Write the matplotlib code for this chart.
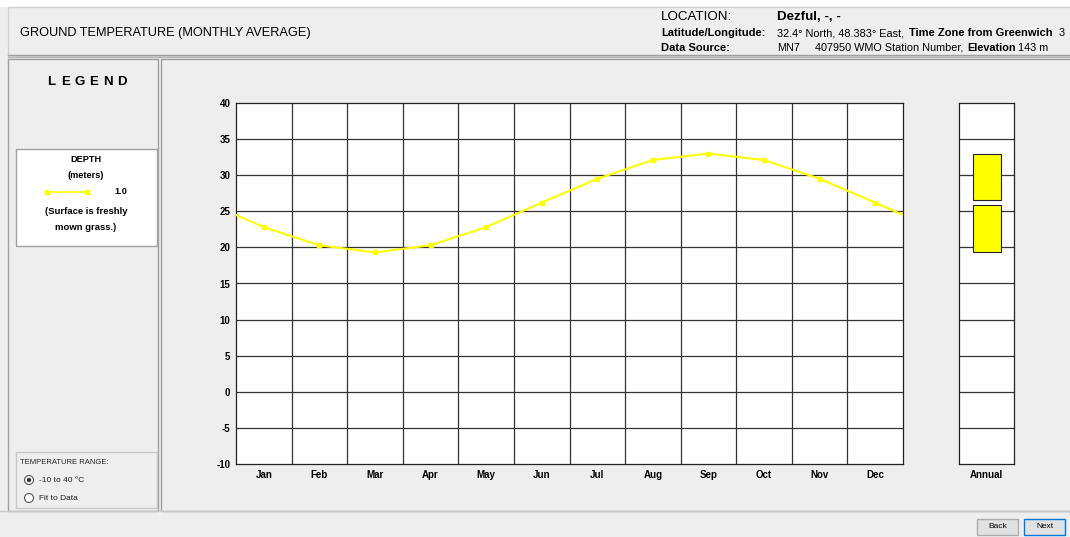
import numpy as np
import matplotlib
matplotlib.use('Agg')
import matplotlib.pyplot as plt
from matplotlib.patches import Rectangle, Circle
from matplotlib.lines import Line2D
from matplotlib.transforms import Affine2D

plt.rcParams['font.family'] = ['Liberation Sans', 'DejaVu Sans']
plt.rcParams['axes.unicode_minus'] = False

# 数据
months = ['Jan', 'Feb', 'Mar', 'Apr', 'May', 'Jun', 'Jul', 'Aug', 'Sep', 'Oct', 'Nov', 'Dec']
temps = [22.8, 20.3, 19.3, 20.3, 22.8, 26.2, 29.5, 32.1, 33.0, 32.1, 29.5, 26.2]
y_ticks = [-10, -5, 0, 5, 10, 15, 20, 25, 30, 35, 40]
depth_label = '1.0'

W, H = 1070, 537
BG = '#EEEEEE'
YEL = '#FFFF00'

fig = plt.figure(figsize=(W / 100, H / 100), dpi=100, facecolor=BG)
# 像素坐标 (左上角为原点)
T = Affine2D().scale(1, -1).translate(0, H).scale(0.01) + fig.dpi_scale_trans


def rect(x0, y0, x1, y1, **kw):
    fig.patches.append(Rectangle((x0, y0), x1 - x0, y1 - y0, transform=T, zorder=-5, **kw))


def hline(x0, x1, y, **kw):
    fig.lines.append(Line2D([x0, x1], [y, y], transform=T, zorder=-4, **kw))


def txt(x, y, s, **kw):
    fig.text(x, y, s, transform=T, **kw)


# 顶部白条和标题栏
rect(0, 0, W, 7, facecolor='white', edgecolor='none')
rect(8, 7, W + 2, 56, facecolor=BG, edgecolor='#D0D0D0', linewidth=1)
hline(8, W, 55, color='#A0A0A0', linewidth=1)
hline(8, W, 57, color='#B8B8B8', linewidth=1)

txt(20, 33, 'GROUND TEMPERATURE (MONTHLY AVERAGE)', fontsize=9.2, va='center')
txt(661, 17, 'LOCATION:', fontsize=9.6, va='center')
txt(777, 17, 'Dezful, -, -', fontsize=9.6, va='center', fontweight='bold')
txt(661, 33, 'Latitude/Longitude:', fontsize=8, va='center', fontweight='bold')
txt(777, 33, '32.4° North, 48.383° East,', fontsize=7.8, va='center')
txt(909, 33, 'Time Zone from Greenwich', fontsize=8, va='center', fontweight='bold')
txt(1059, 33, '3', fontsize=7.8, va='center')
txt(661, 48, 'Data Source:', fontsize=8, va='center', fontweight='bold')
txt(777, 48, 'MN7', fontsize=7.8, va='center')
txt(815, 48, '407950 WMO Station Number,', fontsize=7.8, va='center')
txt(967, 48, 'Elevation', fontsize=7.8, va='center', fontweight='bold')
txt(1018, 48, '143 m', fontsize=7.8, va='center')

# 左侧图例面板
rect(8, 59, 158, 511, facecolor=BG, edgecolor='#A0A0A0', linewidth=1)
rect(161, 59, W + 2, 511, facecolor=BG, edgecolor='#A0A0A0', linewidth=1)
for i, ch in enumerate('LEGEND'):
    txt(51 + i * 14.2, 82, ch, fontsize=9.5, fontweight='bold', ha='center', va='center')

rect(16, 149, 157, 246, facecolor='white', edgecolor='#A0A0A0', linewidth=1)
txt(86, 159, 'DEPTH', fontsize=6.6, fontweight='bold', ha='center', va='center')
txt(86, 175, '(meters)', fontsize=6.6, fontweight='bold', ha='center', va='center')
fig.lines.append(Line2D([47, 87], [192, 192], transform=T, color=YEL, linewidth=1.2,
                        marker='s', markersize=2.5))
txt(121, 192, depth_label, fontsize=6.6, fontweight='bold', ha='center', va='center')
txt(86, 212, '(Surface is freshly', fontsize=6.8, fontweight='bold', ha='center', va='center')
txt(86, 228, 'mown grass.)', fontsize=6.8, fontweight='bold', ha='center', va='center')

rect(16, 452, 157, 508, facecolor=BG, edgecolor='#C8C8C8', linewidth=1)
txt(20, 463, 'TEMPERATURE RANGE:', fontsize=5.5, va='center', color='#222222')
fig.patches.append(Circle((29, 480), 4.5, transform=T, facecolor='white', edgecolor='#555555', linewidth=0.8))
fig.patches.append(Circle((29, 480), 2.2, transform=T, facecolor='#333333', edgecolor='none'))
fig.patches.append(Circle((29, 498), 4.5, transform=T, facecolor='white', edgecolor='#555555', linewidth=0.8))
txt(39, 480, '-10 to 40 °C', fontsize=6, va='center', color='#222222')
txt(39, 498, 'Fit to Data', fontsize=6, va='center', color='#222222')

# 底部按钮栏
hline(0, W, 511, color='#C8C8C8', linewidth=1)
rect(977, 519, 1018, 535, facecolor='#E1E1E1', edgecolor='#ADADAD', linewidth=1)
txt(997.5, 527, 'Back', fontsize=6, ha='center', va='center')
rect(1024, 519, 1065, 535, facecolor='#E1E1E1', edgecolor='#0078D7', linewidth=1)
txt(1044.5, 527, 'Next', fontsize=6, ha='center', va='center')

# 主图
ax = fig.add_axes([236 / W, 1 - 464 / H, 667 / W, 361 / H])
ax.set_facecolor('white')
xs = np.arange(len(months)) + 0.5
# 两端连接上一年12月和下一年1月
x_ext = np.concatenate([[xs[0] - 1], xs, [xs[-1] + 1]])
y_ext = [temps[-1]] + temps + [temps[0]]
ax.plot(x_ext, y_ext, color=YEL, linewidth=1.5, zorder=3)
ax.plot(xs, temps, linestyle='none', marker='s', color=YEL, markersize=3, zorder=4)
ax.set_xlim(0, 12)
ax.set_ylim(-10, 40)
ax.set_yticks(y_ticks)
ax.set_xticks(xs)
ax.set_xticklabels(months)
for v in np.arange(1, 12):
    ax.axvline(v, color='#333333', linewidth=0.9, zorder=1)
for v in y_ticks[1:-1]:
    ax.axhline(v, color='#333333', linewidth=0.9, zorder=1)
ax.tick_params(length=0, labelsize=7, pad=4)
for lab in ax.get_xticklabels() + ax.get_yticklabels():
    lab.set_fontweight('bold')
for s in ax.spines.values():
    s.set_color('#222222')
    s.set_linewidth(0.9)

# 年度柱
ax2 = fig.add_axes([959 / W, 1 - 464 / H, 55.5 / W, 361 / H])
ax2.set_facecolor('white')
t_min, t_max, t_mean = min(temps), max(temps), np.mean(temps)
gap = 0.35
ax2.bar(0.5, t_mean - gap - t_min, bottom=t_min, width=0.5, color=YEL,
        edgecolor='#222222', linewidth=0.8, zorder=3)
ax2.bar(0.5, t_max - t_mean - gap, bottom=t_mean + gap, width=0.5, color=YEL,
        edgecolor='#222222', linewidth=0.8, zorder=3)
ax2.set_xlim(0, 1)
ax2.set_ylim(-10, 40)
for v in y_ticks[1:-1]:
    ax2.axhline(v, color='#333333', linewidth=0.9, zorder=1)
ax2.set_yticks([])
ax2.set_xticks([0.5])
ax2.set_xticklabels(['Annual'], fontweight='bold')
ax2.tick_params(length=0, labelsize=7, pad=4)
for s in ax2.spines.values():
    s.set_color('#222222')
    s.set_linewidth(0.9)

plt.savefig('out.png', dpi=100, facecolor=BG)
